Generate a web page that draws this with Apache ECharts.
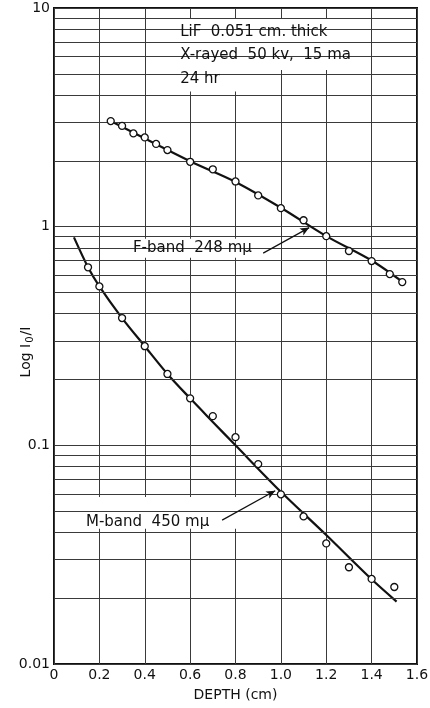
<!DOCTYPE html>
<html>
<head>
<meta charset="utf-8">
<title>LiF coloration vs depth</title>
<script src="https://cdn.jsdelivr.net/npm/echarts@6/dist/echarts.min.js"></script>
<style>
  html, body { margin: 0; padding: 0; background: #fff; }
  #chart { width: 430px; height: 708px; }
</style>
</head>
<body>
<div id="chart"></div>
<script>
// Depth axis ticks
const xTicks = [0, 0.2, 0.4, 0.6, 0.8, 1.0, 1.2, 1.4, 1.6];
const xTickLabels = ['0', '0.2', '0.4', '0.6', '0.8', '1.0', '1.2', '1.4', '1.6'];
// Log axis decades and their labels
const yTicks = [0.01, 0.1, 1, 10];
const yTickLabels = ['0.01', '0.1', '1', '10'];
// Intermediate log-paper rulings (2..9 within each decade)
const yMinorLines = [0.02, 0.03, 0.04, 0.05, 0.06, 0.07, 0.08, 0.09,
                     0.2, 0.3, 0.4, 0.5, 0.6, 0.7, 0.8, 0.9,
                     2, 3, 4, 5, 6, 7, 8, 9];

// F-band (248 mμ) measured points
const fDepth = [0.25, 0.3, 0.35, 0.4, 0.45, 0.5, 0.6, 0.7, 0.8, 0.9, 1.0, 1.1, 1.2, 1.3, 1.4, 1.48, 1.535];
const fLog   = [3.04, 2.89, 2.67, 2.56, 2.39, 2.24, 1.98, 1.83, 1.61, 1.39, 1.215, 1.07, 0.905, 0.774, 0.696, 0.607, 0.558];
// F-band drawn curve
const fCurveDepth = [0.25, 0.6, 0.8, 1.0, 1.2, 1.4, 1.535];
const fCurveLog   = [3.04, 1.99, 1.60, 1.22, 0.905, 0.70, 0.56];

// M-band (450 mμ) measured points
const mDepth = [0.15, 0.2, 0.3, 0.4, 0.5, 0.6, 0.7, 0.8, 0.9, 1.0, 1.1, 1.2, 1.3, 1.4, 1.5];
const mLog   = [0.652, 0.533, 0.382, 0.284, 0.212, 0.164, 0.136, 0.109, 0.0821, 0.0597, 0.0473, 0.0356, 0.0277, 0.0245, 0.0225];
// M-band drawn curve
const mCurveDepth = [0.088, 0.15, 0.2, 0.3, 0.4, 0.5, 0.6, 0.7, 0.8, 1.0, 1.2, 1.4, 1.51];
const mCurveLog   = [0.893, 0.652, 0.533, 0.382, 0.284, 0.212, 0.164, 0.128, 0.100, 0.0613, 0.0389, 0.0244, 0.0193];

// Annotation text
const noteLines = ['LiF  0.051 cm. thick', 'X-rayed  50 kv,  15 ma', '24 hr'];
const fLabel = 'F-band  248 mμ';
const mLabel = 'M-band  450 mμ';

const FONT = 'DejaVu Sans';
const INK = '#111';
const RULE = '#3a3a3a';

const zip = (a, b) => a.map((v, i) => [v, b[i]]);

const chart = echarts.init(document.getElementById('chart'), null, { renderer: 'canvas' });

const option = {
  animation: false,
  backgroundColor: '#fff',
  grid: {
    left: 54, right: 13, top: 8, bottom: 44,
    containLabel: false, outerBoundsMode: 'none',
    show: true, borderColor: INK, borderWidth: 2, backgroundColor: 'transparent'
  },
  xAxis: {
    type: 'value', min: 0, max: 1.6, interval: 0.2,
    name: 'DEPTH (cm)', nameLocation: 'middle', nameGap: 24, nameMoveOverlap: false,
    nameTextStyle: { fontFamily: FONT, fontSize: 14, color: INK },
    axisLine: { show: false },
    axisTick: { show: false },
    axisLabel: {
      fontFamily: FONT, fontSize: 14, color: INK, margin: 4,
      formatter: v => { const i = xTicks.findIndex(t => Math.abs(t - v) < 1e-6); return i >= 0 ? xTickLabels[i] : ''; }
    },
    splitLine: { show: true, lineStyle: { color: RULE, width: 1 } }
  },
  yAxis: {
    type: 'log', logBase: 10, min: 0.01, max: 10,
    name: 'Log I{s|0}/I', nameLocation: 'middle', nameGap: 19, nameRotate: 90, nameMoveOverlap: false,
    nameTextStyle: {
      fontFamily: FONT, fontSize: 14, color: INK, padding: [0, 32, 0, 0],
      rich: { s: { fontFamily: FONT, fontSize: 10, color: INK, padding: [8, 1, 0, 1] } }
    },
    axisLine: { show: false },
    axisTick: { show: false },
    axisLabel: {
      fontFamily: FONT, fontSize: 14, color: INK, margin: 4,
      formatter: v => { const i = yTicks.findIndex(t => Math.abs(Math.log10(t) - Math.log10(v)) < 1e-6); return i >= 0 ? yTickLabels[i] : ''; }
    },
    splitLine: { show: true, lineStyle: { color: RULE, width: 1 } }
  },
  series: [
    {
      // intermediate log rulings
      name: 'rulings', type: 'line', data: [], z: 1, silent: true,
      markLine: {
        silent: true, symbol: ['none', 'none'], label: { show: false },
        lineStyle: { color: RULE, width: 1, type: 'solid' },
        data: yMinorLines.map(v => ({ yAxis: v }))
      }
    },
    {
      // paper cleared behind the lettering
      name: 'clear', type: 'line', data: [], z: 2, silent: true,
      markArea: {
        silent: true,
        itemStyle: { color: '#fff', opacity: 1, borderWidth: 0 },
        data: [
          [{ coord: [0.446, 5.2] }, { coord: [1.359, 8.9] }],
          [{ coord: [0.446, 4.15] }, { coord: [0.99, 5.2] }],
          [{ coord: [0.335, 0.72] }, { coord: [0.985, 0.88] }],
          [{ coord: [1.005, 0.77] }, { coord: [1.107, 0.83] }],
          [{ coord: [0.115, 0.0415] }, { coord: [0.856, 0.058] }]
        ]
      }
    },
    {
      name: 'F curve', type: 'line', z: 4, smooth: 0.3, symbol: 'none',
      lineStyle: { color: INK, width: 2.2 },
      data: zip(fCurveDepth, fCurveLog),
      markLine: {
        silent: true, symbol: ['none', 'arrow'], symbolSize: [6, 9],
        label: { show: false }, lineStyle: { color: INK, width: 1.2, type: 'solid' },
        data: [[{ coord: [0.922, 0.757] }, { coord: [1.125, 0.99] }]]
      }
    },
    {
      name: 'M curve', type: 'line', z: 4, smooth: 0.3, symbol: 'none',
      lineStyle: { color: INK, width: 2.2 },
      data: zip(mCurveDepth, mCurveLog),
      markLine: {
        silent: true, symbol: ['none', 'arrow'], symbolSize: [6, 9],
        label: { show: false }, lineStyle: { color: INK, width: 1.2, type: 'solid' },
        data: [[{ coord: [0.741, 0.0455] }, { coord: [0.975, 0.062] }]]
      }
    },
    {
      name: 'F-band', type: 'scatter', z: 5, symbol: 'circle', symbolSize: 7,
      itemStyle: { color: '#fff', opacity: 1, borderColor: INK, borderWidth: 1.3 },
      data: zip(fDepth, fLog)
    },
    {
      name: 'M-band', type: 'scatter', z: 5, symbol: 'circle', symbolSize: 7,
      itemStyle: { color: '#fff', opacity: 1, borderColor: INK, borderWidth: 1.3 },
      data: zip(mDepth, mLog)
    }
  ]
};

chart.setOption(option);

// Lettering anchored to data coordinates
const at = (x, y) => chart.convertToPixel({ gridIndex: 0 }, [x, y]);
const txt = (p, s) => ({
  type: 'text', x: p[0], y: p[1], z: 10,
  style: { text: s, fill: INK, fontFamily: FONT, fontSize: 15, textAlign: 'left', textVerticalAlign: 'middle' }
});
chart.setOption({
  graphic: [
    txt(at(0.556, 7.76), noteLines[0]),
    txt(at(0.556, 6.09), noteLines[1]),
    txt(at(0.556, 4.73), noteLines[2]),
    txt(at(0.348, 0.798), fLabel),
    txt(at(0.141, 0.0446), mLabel)
  ]
});
</script>
</body>
</html>
